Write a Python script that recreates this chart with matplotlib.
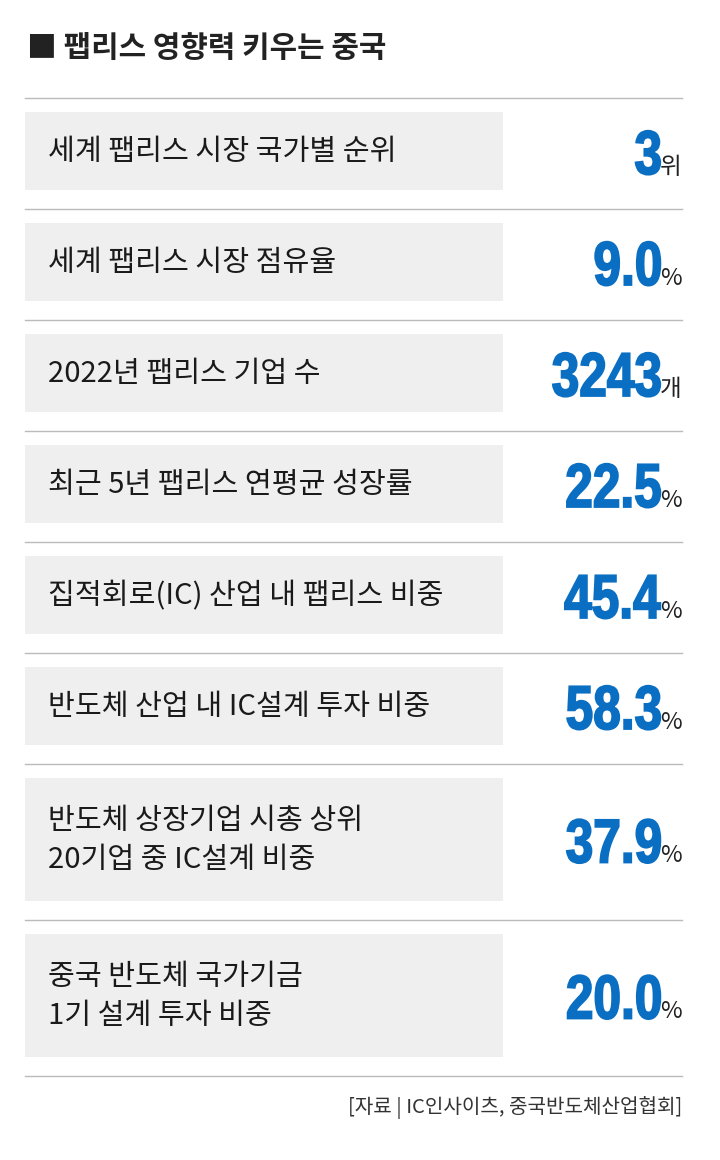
import matplotlib
matplotlib.use("Agg")
import matplotlib.pyplot as plt
from matplotlib.patches import Rectangle, PathPatch
from matplotlib.textpath import TextPath
from matplotlib.font_manager import FontProperties
from matplotlib.transforms import Affine2D

title = "■ 팹리스 영향력 키우는 중국"
labels = ["세계 팹리스 시장 국가별 순위", "세계 팹리스 시장 점유율", "2022년 팹리스 기업 수",
          "최근 5년 팹리스 연평균 성장률", "집적회로(IC) 산업 내 팹리스 비중",
          "반도체 산업 내 IC설계 투자 비중", "반도체 상장기업 시총 상위\n20기업 중 IC설계 비중",
          "중국 반도체 국가기금\n1기 설계 투자 비중"]
values = ["3", "9.0", "3243", "22.5", "45.4", "58.3", "37.9", "20.0"]
units = ["위", "%", "개", "%", "%", "%", "%", "%"]
source = "[자료 | IC인사이츠, 중국반도체산업협회]"

KR = "Noto Sans CJK KR"
BLUE = "#0a6fc2"
numprop = FontProperties(family="Liberation Sans", weight="bold")
fig = plt.figure(figsize=(7.2, 11.6), dpi=100)
ax = fig.add_axes([0, 0, 1, 1])
ax.set_xlim(0, 720); ax.set_ylim(1160, 0); ax.axis("off")

ax.text(27, 48, title, fontfamily=KR, fontsize=21.5, fontweight="bold", va="center", color="#222")

row_h = [110] * 6 + [155, 155]
y = 98
ax.plot([25, 682], [y, y], color="#bbbbbb", lw=1)
fig.canvas.draw()
r = fig.canvas.get_renderer()
for lab, v, u, h in zip(labels, values, units, row_h):
    pad = 14
    ax.add_patch(Rectangle((25, y + pad), 478, h - 2 * pad - 4, color="#efefef", lw=0))
    cy = y + h / 2 - 1
    ax.text(48, cy, lab, fontfamily=KR, fontsize=21, fontweight="medium", va="center",
            color="#1a1a1a", linespacing=1.4)
    base = cy + 22
    ut = ax.text(682, base, u, fontfamily=KR, fontsize=17, ha="right", va="baseline", color="#222")
    bb = ut.get_window_extent(r)
    tp = TextPath((0, 0), v, size=62, prop=numprop)
    ext = tp.get_extents()
    sx = 0.8
    right = 682 - bb.width
    tr = Affine2D().translate(-ext.x1, 0).scale(sx, -1).translate(right, base)
    ax.add_patch(PathPatch(tr.transform_path(tp), facecolor=BLUE, edgecolor=BLUE, lw=1.3))
    y += h + 1
    ax.plot([25, 682], [y, y], color="#bbbbbb", lw=1)

ax.text(682, 1108, source, fontfamily=KR, fontsize=14.5, ha="right", va="center", color="#333")
fig.savefig("out.png", dpi=100)
